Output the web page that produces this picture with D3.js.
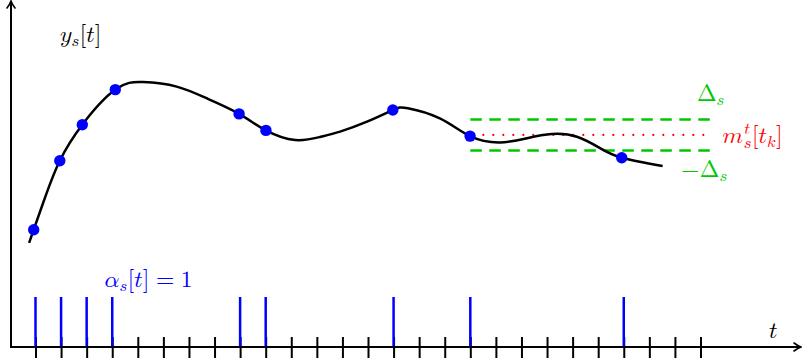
<!DOCTYPE html>
<html><head><meta charset="utf-8">
<script src="https://cdn.jsdelivr.net/npm/d3@7/dist/d3.min.js"></script>
<style>html,body{margin:0;padding:0;background:#fff;}svg{display:block;}</style>
</head><body>
<svg id="chart" width="802" height="364"></svg>
<script>
// ---- data ----
const tickPositions = d3.range(0, 27);                 // discrete time instants t
const impulseT = [0, 1, 2, 3, 8, 9, 14, 17, 23];        // alpha_s[t] = 1
const impulseValue = [1, 1, 1, 1, 1, 1, 1, 1, 1];
const curveT = [-0.25, -0.07, 0.41, 0.95, 1.83, 3.12, 4.20, 5.52, 6.74, 7.96, 9.01, 10.15, 11.12, 11.91, 12.96, 13.97, 14.56, 15.81, 16.99, 18.16, 19.22, 20.19, 21.17, 22.07, 22.92, 24.52];
const curveY = [34.7, 39.1, 50.7, 62.1, 74.1, 85.8, 88.3, 86.8, 82.7, 77.7, 72.2, 69.0, 70.0, 71.8, 75.1, 79.0, 79.6, 76.2, 70.3, 68.2, 69.6, 71.0, 70.1, 66.3, 63.1, 60.3];
const sampleT = [-0.07, 0.95, 1.83, 3.12, 7.96, 9.01, 13.97, 16.99, 22.92];
const sampleY = [39.1, 62.1, 74.1, 85.8, 77.7, 72.2, 79.0, 70.3, 63.1];
const bandStartT = 17, bandEndT = 26.4;
const meanValue = 70.7;   // m_s^t[t_k]
const deltaValue = 5.17;  // Delta_s

const svg = d3.select("#chart");
const W = 802, H = 364;
const x0 = 11, y0 = 347;

const x = d3.scaleLinear().domain([0, 26]).range([35.5, 700.5]);
const y = d3.scaleLinear().domain([0, 100]).range([y0, 47]);
const a = d3.scaleLinear().domain([0, 1]).range([y0, 297]);

const GREEN = "#00c800", RED = "#ff0000", BLUE = "#0000ff";
const MATH = "Latin Modern Math";
// math italic letters (Unicode mathematical alphanumerics)
const I = {y: "\u{1D466}", s: "\u{1D460}", t: "\u{1D461}", a: "\u{1D6FC}", m: "\u{1D45A}", k: "\u{1D458}"};

// ---- ticks (axis) ----
const axis = d3.axisBottom(x).tickValues(tickPositions).tickSize(11).tickFormat("");
const axG = svg.append("g").attr("transform", `translate(0,${y0 - 10})`).call(axis);
axG.select(".domain").remove();
axG.selectAll(".tick line").attr("stroke", "#000").attr("stroke-width", 2).attr("y2", 21);

// ---- impulses ----
svg.append("g").selectAll("line").data(impulseT).join("line")
  .attr("x1", d => x(d)).attr("x2", d => x(d))
  .attr("y1", a(0)).attr("y2", (d, i) => a(impulseValue[i]))
  .attr("stroke", BLUE).attr("stroke-width", 2.5);

// ---- axes with arrows ----
svg.append("line").attr("x1", x0 - 1).attr("x2", W - 2).attr("y1", y0).attr("y2", y0)
  .attr("stroke", "#000").attr("stroke-width", 2);
svg.append("line").attr("x1", x0).attr("x2", x0).attr("y1", y0 + 1).attr("y2", 1)
  .attr("stroke", "#000").attr("stroke-width", 2);
svg.append("path").attr("d", `M${W - 8},${y0 - 4} Q${W - 4},${y0 - 1} ${W - 1},${y0} Q${W - 4},${y0 + 1} ${W - 8},${y0 + 4}`)
  .attr("fill", "none").attr("stroke", "#000").attr("stroke-width", 1.6).attr("stroke-linecap", "round");
svg.append("path").attr("d", `M${x0 - 4},8 Q${x0 - 1},4 ${x0},1 Q${x0 + 1},4 ${x0 + 4},8`)
  .attr("fill", "none").attr("stroke", "#000").attr("stroke-width", 1.6).attr("stroke-linecap", "round");

// ---- band ----
const band = svg.append("g");
[meanValue + deltaValue, meanValue - deltaValue].forEach(v => {
  band.append("line").attr("x1", x(bandStartT)).attr("x2", x(bandEndT))
    .attr("y1", y(v)).attr("y2", y(v))
    .attr("stroke", GREEN).attr("stroke-width", 2.5).attr("stroke-dasharray", "11.5 7.5");
});

// ---- curve ----
const pts = curveT.map((t, i) => [x(t), y(curveY[i])]);
svg.append("path").attr("d", d3.line().curve(d3.curveNatural)(pts))
  .attr("fill", "none").attr("stroke", "#000").attr("stroke-width", 2.5);

// ---- mean dotted line ----
band.append("line").attr("x1", x(bandStartT) + 3).attr("x2", x(bandEndT))
  .attr("y1", y(meanValue)).attr("y2", y(meanValue))
  .attr("stroke", RED).attr("stroke-width", 2.2).attr("stroke-linecap", "round")
  .attr("stroke-dasharray", "0 10");

// ---- samples ----
svg.append("g").selectAll("circle").data(sampleT).join("circle")
  .attr("cx", d => x(d)).attr("cy", (d, i) => y(sampleY[i])).attr("r", 5.7)
  .attr("fill", BLUE);

// ---- math text helper ----
const FS = 23.5, SS = 16.5;
function mathText(px, py, color, pieces) {
  const g = svg.append("g").attr("fill", color);
  let cx = px;
  const mk = (xx, yy, s) => g.append("text").attr("x", xx).attr("y", yy).text(s.t)
    .attr("font-family", MATH)
    .attr("font-size", (s.size || FS));
  pieces.forEach(p => {
    if (p.stack) {
      const txt = g.append("text").attr("font-family", MATH);
      let wmax = 0;
      p.stack.forEach(s => {
        const ts = txt.append("tspan").attr("x", cx + (s.dx || 0)).attr("y", py + s.dy)
          .attr("font-size", s.size).text(s.t);
        wmax = Math.max(wmax, ts.node().getComputedTextLength() + (s.dx || 0));
      });
      cx += wmax + 0.5;
    } else {
      const el = mk(cx + (p.dx || 0), py + (p.dy || 0), p);
      cx += el.node().getComputedTextLength() + (p.dx || 0) + (p.after || 0);
    }
  });
  return g;
}

// y_s[t]
mathText(60, 41.5, "#000", [
  {t: I.y}, {t: I.s, size: SS, dy: 4, after: 0.5},
  {t: "["}, {t: I.t}, {t: "]"}
]);
// alpha_s[t] = 1
mathText(104.5, 286.7, BLUE, [
  {t: I.a}, {t: I.s, size: SS, dy: 4, after: 0.5},
  {t: "["}, {t: I.t}, {t: "]", after: 6.5}, {t: "=", after: 6.5}, {t: "1"}
]);
// t axis label
mathText(769, 338.3, "#000", [{t: I.t}]);
// Delta_s
mathText(697, 100.7, GREEN, [{t: "Δ"}, {t: I.s, size: SS, dy: 4}]);
// -Delta_s
mathText(681, 176.7, GREEN, [{t: "−", after: 0.5}, {t: "Δ"}, {t: I.s, size: SS, dy: 4}]);
// m_s^t[t_k]
mathText(722.5, 143.3, RED, [
  {t: I.m, after: 0.5},
  {stack: [{t: I.t, size: SS, dy: -9.5, dx: 0.5}, {t: I.s, size: SS, dy: 5}]},
  {t: "["}, {t: I.t}, {t: I.k, size: SS, dy: 4, after: 0.5}, {t: "]"}
]);
</script>
</body></html>
